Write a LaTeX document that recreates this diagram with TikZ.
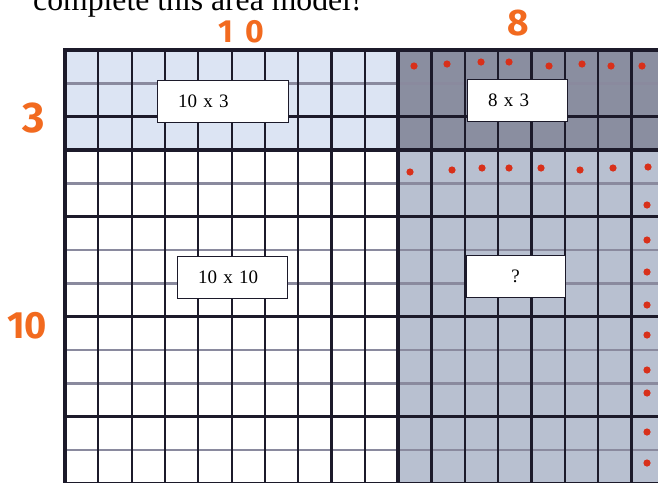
\documentclass[tikz,border=0pt]{standalone}
\usepackage{fontspec}
\setmainfont{Liberation Serif}
\newfontfamily\markerfont{Fira Sans}
\usepackage{tikz}
\usetikzlibrary{positioning}
\definecolor{AMInk}{HTML}{1C1A2A}
\definecolor{AMRule}{HTML}{8A8A9E}
\definecolor{AMSky}{HTML}{DCE4F3}
\definecolor{AMSlate}{HTML}{8A8EA0}
\definecolor{AMMist}{HTML}{B8C0D0}
\definecolor{AMOrange}{HTML}{F26A1F}
\definecolor{AMRed}{HTML}{D8301A}
\newcommand{\cellsize}{33.33}
\newcommand{\areafill}[5]{%
  \fill[#5] (#1,#2) rectangle ++({#3*\cellsize},{#4*\cellsize});
}
\newcommand{\reddot}[2]{%
  \fill[AMRed] (#1,#2) circle (3.6pt);
}
\tikzset{
  areabox/.style={draw=AMInk, fill=white, line width=0.9pt, minimum height=42pt,
    inner xsep=21pt, inner ysep=0pt, align=left, font=\fontsize{19}{22}\selectfont},
  handlabel/.style={text=AMOrange, inner sep=0pt, font=\markerfont\bfseries\fontsize{#1}{#1}\selectfont}
}

\begin{document}
\begin{tikzpicture}[x=1pt,y=-1pt]
  \useasboundingbox (0,0) rectangle (658,482);
  \fill[white] (0,0) rectangle (658,482);
  \clip (0,0) rectangle (658,482);

  % title, cut by the page edge
  \node[anchor=base west, inner sep=0pt, font=\fontsize{31.7}{36}\selectfont] (title) at (33,10) {complete this area model!};

  % the four parts
  \areafill{65}{50}{10}{3}{AMSky}
  \areafill{65}{150}{10}{10}{white}
  \areafill{398.3}{50}{8}{3}{AMSlate}
  \areafill{398.3}{150}{8}{10}{AMMist}

  % grid
  \foreach \j/\c in {0/AMInk,1/AMRule,2/AMInk,3/AMInk,4/AMRule,5/AMInk,6/AMRule,
                     7/AMRule,8/AMInk,9/AMRule,10/AMRule,11/AMInk,12/AMRule,13/AMInk}
    \draw[\c, line width=2.5pt] (65,{50+\j*\cellsize}) -- ++({18*\cellsize},0);
  \foreach \i in {0,...,18}
    \draw[AMInk, line width=2.3pt] ({65+\i*\cellsize},50) -- ++(0,{13*\cellsize});
  \draw[AMInk, line width=4pt] (665,50) -- (65,50) -- (65,485);
  \draw[AMInk, line width=4pt] (398.3,50) -- (398.3,485);
  \draw[AMInk, line width=3.4pt] (65,150) -- (665,150);

  % red dots
  \foreach \x/\y in {414/66,447/64,481/62,509/62,549/66,582/64,611/66,642/66}
    {\reddot{\x}{\y}}
  \foreach \x/\y in {410/172,452/170,482/168,509/168,541/168,580/170,613/168,648/167}
    {\reddot{\x}{\y}}
  \foreach \y in {205,240,272,305,335,370,393,432,463}
    {\reddot{647}{\y}}

  % boxes
  \node[areabox, text width=89pt] (tenbythree) at (222.5,101) {10 x 3};
  \node[areabox, text width=58pt] (eightbythree) at (517,100.5) {8 x 3};
  \node[areabox, text width=68pt] (tenbyten) at (232,277) {10 x 10};
  \node[areabox, text width=57pt, align=center] (unknown) at (515.5,276) {?};

  % side lengths
  \node[handlabel=32] (topten) at (241,32) {1\kern 12pt 0};
  \node[handlabel=37] (topeight) at (518,23) {8};
  \node[handlabel=43] (sidethree) at (34,118) {3};
  \node[handlabel=38] (sideten) at (27,326) {10};
\end{tikzpicture}
\end{document}
